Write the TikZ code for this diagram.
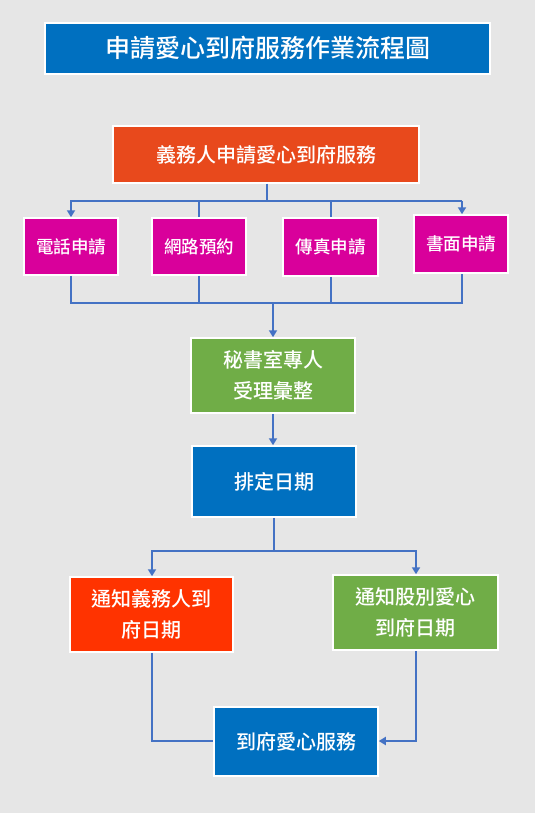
\documentclass[tikz,border=0pt]{standalone}
\usepackage{fontspec}
\setmainfont{Noto Sans CJK TC Medium}
\usetikzlibrary{arrows.meta}
\definecolor{bg}{HTML}{E6E6E6}
\definecolor{tblue}{HTML}{0070C0}
\definecolor{torange}{HTML}{E8491C}
\definecolor{tpink}{HTML}{D9009B}
\definecolor{tgreen}{HTML}{70AD47}
\definecolor{tred}{HTML}{FF3300}
\definecolor{tline}{HTML}{4472C4}
\tikzset{
  box/.style={draw=white, line width=1.5pt, text=white, align=center, inner sep=0pt,
    font=\fontsize{20}{31}\selectfont},
  pbox/.style={box, fill=tpink, font=\fontsize{17.5}{20}\selectfont},
  conn/.style={draw=tline, line width=2pt},
  arr/.style={conn, -{Triangle[width=8pt,length=7pt]}}
}
\begin{document}
\begin{tikzpicture}[x=1pt,y=-1pt]
\fill[bg] (0,0) rectangle (535,813);
\useasboundingbox (0,0) rectangle (535,813);
% boxes
\node[box, fill=tblue, minimum width=445pt, minimum height=51pt, font=\fontsize{25}{28}\selectfont] (title) at (267.5,48.5) {申請愛心到府服務作業流程圖};
\node[box, fill=torange, minimum width=306pt, minimum height=57pt] (apply) at (266,154.5) {義務人申請愛心到府服務};
\node[pbox, minimum width=94pt, minimum height=57pt] (p1) at (71,246.5) {電話申請};
\node[pbox, minimum width=94pt, minimum height=57pt] (p2) at (199,246.5) {網路預約};
\node[pbox, minimum width=95pt, minimum height=58pt] (p3) at (330.5,247) {傳真申請};
\node[pbox, minimum width=94pt, minimum height=58pt] (p4) at (461,244) {書面申請};
\node[box, fill=tgreen, minimum width=164pt, minimum height=75pt] (sec) at (273,375.5) {秘書室專人\\受理彙整};
\node[box, fill=tblue, minimum width=164pt, minimum height=71pt] (sched) at (274,481.5) {排定日期};
\node[box, fill=tred, minimum width=163pt, minimum height=75pt] (notA) at (151.5,614.5) {通知義務人到\\府日期};
\node[box, fill=tgreen, minimum width=165pt, minimum height=75pt] (notB) at (415.5,612.5) {通知股別愛心\\到府日期};
\node[box, fill=tblue, minimum width=164pt, minimum height=69pt] (serve) at (296,741.5) {到府愛心服務};
% coordinates
\coordinate (b1) at (267,201);
\coordinate (bl) at (71,201);
\coordinate (br) at (462,201);
\coordinate (m1) at (71,303);
\coordinate (m4) at (462,303);
\coordinate (mc) at (273,303);
\coordinate (s1) at (274,551);
\coordinate (sl) at (152,551);
\coordinate (sr) at (416,551);
\coordinate (ea) at (152,741);
\coordinate (eb) at (416,741);
% connectors
\draw[conn] (apply.south -| b1) -- (b1);
\draw[arr] (br) -- (p4.north -| br);
\draw[arr] (b1) -- (bl) -- (p1.north -| bl);
\draw[conn] (b1) -- (br);
\draw[conn] (p2.north |- b1) -- (p2.north);
\draw[conn] (p3.north |- b1) -- (p3.north);
\draw[conn] (p1.south -| m1) -- (m1) -- (m4) -- (p4.south -| m4);
\draw[conn] (p2.south) -- (p2.south |- m1);
\draw[conn] (p3.south) -- (p3.south |- m1);
\draw[arr] (mc) -- (sec.north);
\draw[arr] (sec.south) -- (sec.south |- sched.north);
\draw[conn] (sched.south) -- (s1);
\draw[arr] (s1) -- (sl) -- (notA.north -| sl);
\draw[arr] (s1) -- (sr) -- (notB.north -| sr);
\draw[conn] (notA.south -| ea) -- (ea) -- (serve.west |- ea);
\draw[arr] (notB.south -| eb) -- (eb) -- (serve.east |- eb);
\end{tikzpicture}
\end{document}
